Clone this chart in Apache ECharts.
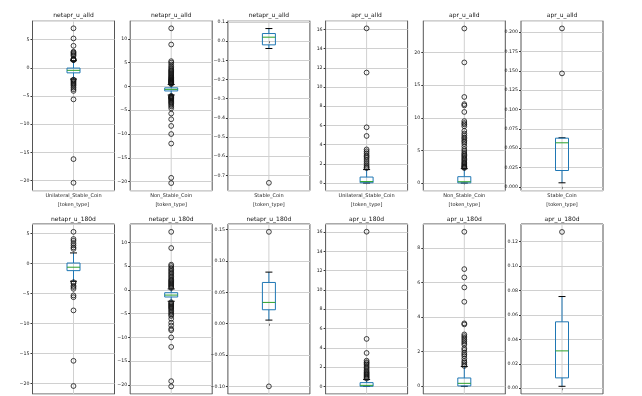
<!DOCTYPE html>
<html>
<head>
    <meta charset="utf-8" />
    <script src="https://cdn.jsdelivr.net/npm/echarts@6/dist/echarts.min.js"></script>
    <style>html, body { margin: 0; padding: 0; background: #fff; }</style>
</head>
<body>
    <div id="main" style="width: 642px;height: 396px;"></div>

    <script type="text/javascript">
        var chartDom = document.getElementById('main');
        var myChart = echarts.init(chartDom);
        var option;

        // subplot titles, row by row
        var titles = ['netapr_u_alld', 'netapr_u_alld', 'netapr_u_alld', 'apr_u_alld', 'apr_u_alld', 'apr_u_alld',
            'netapr_u_180d', 'netapr_u_180d', 'netapr_u_180d', 'apr_u_180d', 'apr_u_180d', 'apr_u_180d'];
        var categories = ['Unilateral_Stable_Coin', 'Non_Stable_Coin', 'Stable_Coin'];

        // [lower whisker, Q1, median, Q3, upper whisker] for Unilateral / Non_Stable / Stable
        var boxNetAlld = [[-2.0, -0.9, -0.45, -0.05, 1.25], [-1.8, -0.95, -0.62, -0.3, 0.4], [-0.038, -0.019, 0.021, 0.040, 0.066]];
        var boxAprAlld = [[0.0, 0.03, 0.15, 0.62, 1.4], [0.0, 0.02, 0.2, 0.97, 2.2], [0.0052, 0.0211, 0.0569, 0.0629, 0.0634]];
        var boxNet180 = [[-2.94, -1.17, -0.6, 0.1, 1.78], [-2.4, -1.5, -1.1, -0.6, 0.2], [0.0058, 0.0223, 0.034, 0.0658, 0.0823]];
        var boxApr180 = [[0.0, 0.0, 0.1, 0.38, 0.7], [0.0, 0.02, 0.17, 0.48, 1.14], [0.0016, 0.0085, 0.0306, 0.0544, 0.0751]];

        // fliers
        var outNetAlldUni = [7.0, 5.2, 3.9, 2.85, 2.7, 2.5, 2.3, 2.1, 1.6, 1.5, 1.45, 1.4, 1.35,
            -2.1, -2.2, -2.4, -2.6, -2.8, -3.0, -3.2, -3.5, -3.8, -4.1, -5.6, -16.2, -20.4];
        var outNetAlldNon = [12.2, 8.8, 5.3, 5.0, 4.6, 4.2, 3.9, 3.6, 3.4, 3.2, 3.0, 2.8, 2.6, 2.4, 2.2, 2.0, 1.85, 1.7,
            1.55, 1.4, 1.3, 1.2, 1.1, 1.0, 0.9, 0.8, 0.7, 0.6, 0.5,
            -2.0, -2.1, -2.2, -2.3, -2.4, -2.5, -2.6, -2.8, -3.0, -3.2, -3.4, -3.6, -3.9, -4.2, -4.6, -5.7, -6.9,
            -8.3, -10.0, -12.0, -19.2, -20.3];
        var outNetAlldSta = [-0.739];
        var outAprAlldUni = [16.1, 11.5, 5.8, 4.9, 3.5, 3.3, 3.1, 2.9, 2.75, 2.6, 2.4, 2.2, 2.0, 1.8, 1.65, 1.55];
        var outAprAlldNon = [23.7, 18.5, 13.2, 12.1, 11.9, 10.9, 9.5, 9.2, 9.0, 8.7, 8.0, 7.6, 7.3, 7.0, 6.8, 6.5, 6.3,
            6.0, 5.6, 5.2, 4.9, 4.6, 4.4, 4.2, 4.0, 3.8, 3.6, 3.4, 3.2, 3.05, 2.9, 2.75, 2.6, 2.5, 2.4, 2.3];
        var outAprAlldSta = [0.2047, 0.1466];
        var outNet180Uni = [5.3, 4.1, 3.8, 3.4, 3.05, 2.7, 2.45,
            -3.1, -3.3, -3.7, -3.9, -4.2, -5.3, -5.6, -7.8, -16.2, -20.4];
        var outNet180Non = [12.2, 8.8, 5.3, 5.0, 4.6, 4.3, 4.0, 3.7, 3.4, 3.1, 2.8, 2.5, 2.2, 2.0, 1.8, 1.6, 1.4, 1.2,
            1.0, 0.8, 0.6, 0.4,
            -2.6, -2.8, -3.0, -3.2, -3.4, -3.6, -3.8, -4.0, -4.3, -4.6, -4.9, -5.2, -5.5, -6.1, -6.9, -7.5, -8.2,
            -8.5, -10.0, -12.0, -19.2, -20.3];
        var outNet180Sta = [0.1465, -0.0998];
        var outApr180Uni = [16.05, 4.92, 3.46, 2.66, 2.5, 2.4, 2.25, 2.1, 1.95, 1.8, 1.65, 1.5, 1.4, 1.3, 1.2, 1.1, 1.0, 0.9, 0.8];
        var outApr180Non = [8.94, 6.78, 6.30, 5.72, 4.89, 3.64, 3.58, 3.0, 2.9, 2.8, 2.7, 2.6, 2.5, 2.4, 2.2, 2.1, 1.95,
            1.85, 1.75, 1.6, 1.46, 1.37, 1.27, 1.18];
        var outApr180Sta = [0.128];

        // y axis extent, tick step and decimals per subplot
        var yMin = [-21.8, -21.9, -0.78, -0.8, -1.18, -0.005, -21.73, -21.9, -0.112, -0.8, -0.447, -0.0047];
        var yMax = [8.35, 13.8, 0.107, 16.9, 24.9, 0.2147, 6.6, 13.85, 0.159, 16.85, 9.39, 0.1345];
        var yStep = [5, 5, 0.1, 2, 5, 0.025, 5, 5, 0.05, 2, 2, 0.02];
        var yDec = [0, 0, 1, 0, 0, 3, 0, 0, 2, 0, 0, 2];

        var boxes = boxNetAlld.concat(boxAprAlld, boxNet180, boxApr180);
        var fliers = [outNetAlldUni, outNetAlldNon, outNetAlldSta, outAprAlldUni, outAprAlldNon, outAprAlldSta,
            outNet180Uni, outNet180Non, outNet180Sta, outApr180Uni, outApr180Non, outApr180Sta];

        var colLeft = [32.5, 130.2, 227.9, 325.6, 423.3, 521];
        var rowTop = [20.7, 224];
        var titleY = [15.5, 219.5];
        var W = 82, H = 170;
        var FONT = 'DejaVu Sans';

        function drawBox(params, api) {
            var x = api.value(0);
            var lo = api.coord([x, api.value(1)]);
            var q1 = api.coord([x, api.value(2)]);
            var md = api.coord([x, api.value(3)]);
            var q3 = api.coord([x, api.value(4)]);
            var hi = api.coord([x, api.value(5)]);
            var cs = params.coordSys;
            var cx = lo[0], hw = 6.5, cw = 3.5;
            var blue = { stroke: '#1f77b4', lineWidth: 1, fill: null };
            var black = { stroke: '#000', lineWidth: 1 };
            return {
                type: 'group',
                children: [
                    { type: 'line', shape: { x1: cx, y1: cs.y, x2: cx, y2: cs.y + cs.height }, style: { stroke: '#d0d0d0', lineWidth: 1 } },
                    { type: 'line', shape: { x1: cx, y1: q1[1], x2: cx, y2: lo[1] }, style: blue },
                    { type: 'line', shape: { x1: cx, y1: q3[1], x2: cx, y2: hi[1] }, style: blue },
                    { type: 'line', shape: { x1: cx - cw, y1: lo[1], x2: cx + cw, y2: lo[1] }, style: black },
                    { type: 'line', shape: { x1: cx - cw, y1: hi[1], x2: cx + cw, y2: hi[1] }, style: black },
                    { type: 'rect', shape: { x: cx - hw, y: q3[1], width: hw * 2, height: q1[1] - q3[1] }, style: { stroke: '#1f77b4', lineWidth: 1, fill: 'rgba(0,0,0,0)' } },
                    { type: 'line', shape: { x1: cx - hw, y1: md[1], x2: cx + hw, y2: md[1] }, style: { stroke: '#2ca02c', lineWidth: 1 } }
                ]
            };
        }

        function fmt(d) {
            return function (v) {
                var s = Math.abs(v).toFixed(d);
                return (v < 0 && parseFloat(s) !== 0 ? '\u2212' : '') + s;
            };
        }

        var grids = [], xAxes = [], yAxes = [], series = [], graphics = [];
        for (var i = 0; i < 12; i++) {
            var r = Math.floor(i / 6), c = i % 6;
            grids.push({
                left: colLeft[c], top: rowTop[r], width: W, height: H,
                show: true, borderColor: '#555', borderWidth: 1,
                containLabel: false, outerBoundsMode: 'none'
            });
            xAxes.push({
                type: 'category', gridIndex: i, data: [categories[c % 3]], boundaryGap: true,
                name: '[token_type]', nameLocation: 'middle', nameGap: 12,
                nameTextStyle: { fontSize: 5, color: '#222', fontFamily: FONT },
                axisLine: { show: false },
                axisTick: { show: true, alignWithLabel: true, length: 2, lineStyle: { color: '#333' } },
                axisLabel: { fontSize: 5, color: '#222', margin: 3, fontFamily: FONT },
                splitLine: { show: false }
            });
            yAxes.push({
                type: 'value', gridIndex: i, min: yMin[i], max: yMax[i],
                minInterval: yStep[i], maxInterval: yStep[i],
                axisLine: { show: false },
                axisTick: { show: true, length: 2, lineStyle: { color: '#333' } },
                axisLabel: {
                    fontSize: 4.7, color: '#222', margin: 3, fontFamily: FONT,
                    showMinLabel: false, showMaxLabel: false, formatter: fmt(yDec[i])
                },
                splitLine: { show: true, lineStyle: { color: '#d0d0d0', width: 1 } }
            });
            series.push({
                type: 'custom', xAxisIndex: i, yAxisIndex: i, renderItem: drawBox, silent: true, z: 2,
                encode: { x: 0, y: [1, 2, 3, 4, 5] },
                data: [[0].concat(boxes[i])]
            });
            series.push({
                type: 'scatter', xAxisIndex: i, yAxisIndex: i, silent: true, z: 3,
                symbol: 'circle', symbolSize: 4.8,
                itemStyle: { color: 'rgba(0,0,0,0)', borderColor: '#111', borderWidth: 0.8, opacity: 1 },
                data: fliers[i].map(function (v) { return [0, v]; })
            });
            graphics.push({
                type: 'text', x: colLeft[c] + W / 2, y: titleY[r], silent: true,
                style: { text: titles[i], fill: '#111', fontSize: 6, fontFamily: FONT, align: 'center', verticalAlign: 'middle' }
            });
        }

        option = {
            backgroundColor: '#fff',
            animation: false,
            grid: grids,
            xAxis: xAxes,
            yAxis: yAxes,
            series: series,
            graphic: graphics
        };
        myChart.setOption(option);
    </script>
</body>
</html>
